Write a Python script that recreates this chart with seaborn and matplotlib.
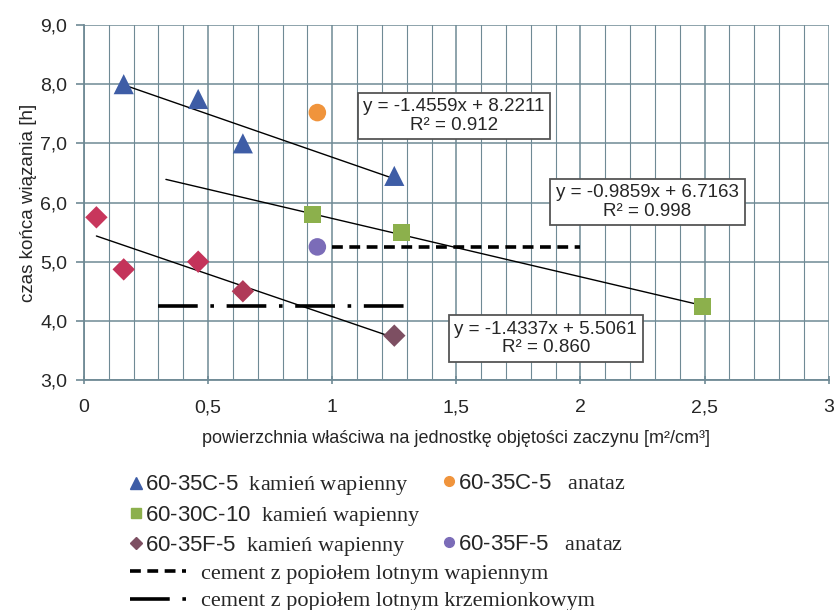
import numpy as np
import matplotlib
matplotlib.use("Agg")
import matplotlib.pyplot as plt
import seaborn as sns
from matplotlib.ticker import MultipleLocator, FuncFormatter
from matplotlib.lines import Line2D

sns.set_style("whitegrid")
plt.rcParams['font.family'] = ['Liberation Sans', 'DejaVu Sans']
plt.rcParams['mathtext.fontset'] = 'custom'
plt.rcParams['mathtext.sf'] = 'Liberation Sans'
plt.rcParams['mathtext.rm'] = 'Liberation Serif'

# data
c5_kw_x = [0.16, 0.46, 0.64, 1.25]
c5_kw_y = [8.0, 7.75, 7.0, 6.45]
c5_an_x = [0.94]
c5_an_y = [7.52]
c10_kw_x = [0.92, 1.28, 2.49]
c10_kw_y = [5.8, 5.5, 4.25]
f5_kw_x = [0.05, 0.16, 0.46, 0.64, 1.25]
f5_kw_y = [5.75, 4.87, 5.0, 4.5, 3.75]
f5_an_x = [0.94]
f5_an_y = [5.25]

# trend lines: slope, intercept, x range, label
fit_slopes = [-1.4559, -0.9859, -1.4337]
fit_inter = [8.2211, 6.7163, 5.5061]
fit_xmin = [0.16, 0.33, 0.05]
fit_xmax = [1.25, 2.49, 1.25]
fit_texts = ["y = -1.4559x + 8.2211\nR² = 0.912",
             "y = -0.9859x + 6.7163\nR² = 0.998",
             "y = -1.4337x + 5.5061\nR² = 0.860"]
fit_text_x = [1.49, 2.27, 1.86]
fit_text_y = [7.46, 6.01, 3.70]

# reference levels
ref_wap_x = [1.0, 2.0]
ref_wap_y = [5.25, 5.25]
ref_krz_x = [0.3, 1.3]
ref_krz_y = [4.25, 4.25]

col_tri = "#3E5DA6"
col_orange = "#F0943C"
col_green = "#8CB04C"
col_purple = "#7B6CB8"
col_dia = ["#C8365C", "#C4335A", "#C4335A", "#B03A58", "#7D4F62"]
grid_col = "#6F8A95"
dash = (0, (3.0, 1.8))
dashdot = (0, (11, 3.5, 1, 3.5))

fig = plt.figure(figsize=(8.34, 6.10), dpi=100)
ax = fig.add_axes([0.1007, 0.377, 0.893, 0.582])

for i in range(3):
    xs = np.array([fit_xmin[i], fit_xmax[i]])
    sns.lineplot(x=xs, y=fit_slopes[i] * xs + fit_inter[i], ax=ax,
                 color="black", lw=1.0, zorder=3)

sns.lineplot(x=ref_wap_x, y=ref_wap_y, ax=ax, color="black", lw=2.6,
             linestyle=dash, zorder=3)
sns.lineplot(x=ref_krz_x, y=ref_krz_y, ax=ax, color="black", lw=2.6,
             linestyle=dashdot, zorder=3)

sns.scatterplot(x=c5_kw_x, y=c5_kw_y, ax=ax, marker="^", s=210,
                color=col_tri, edgecolor="none", zorder=4)
sns.scatterplot(x=c5_an_x, y=c5_an_y, ax=ax, marker="o", s=160,
                color=col_orange, edgecolor="none", zorder=4)
sns.scatterplot(x=c10_kw_x, y=c10_kw_y, ax=ax, marker="s", s=150,
                color=col_green, edgecolor="none", zorder=4)
sns.scatterplot(x=f5_kw_x, y=f5_kw_y, ax=ax, marker="D", s=130,
                hue=list(range(len(f5_kw_x))), palette=col_dia,
                edgecolor="none", legend=False, zorder=4)
sns.scatterplot(x=f5_an_x, y=f5_an_y, ax=ax, marker="o", s=160,
                color=col_purple, edgecolor="none", zorder=4)

for i in range(3):
    ax.text(fit_text_x[i], fit_text_y[i], fit_texts[i], ha="center", va="center",
            fontsize=13.5, linespacing=1.1, zorder=5,
            bbox=dict(boxstyle="square,pad=0.3", fc="white", ec="#555555", lw=1.3))

ax.set_xlim(0, 3)
ax.set_ylim(3, 9)
ax.xaxis.set_major_locator(MultipleLocator(0.5))
ax.xaxis.set_minor_locator(MultipleLocator(0.1))
ax.yaxis.set_major_locator(MultipleLocator(1))
ax.xaxis.set_major_formatter(FuncFormatter(lambda v, p: ("%g" % v).replace(".", ",")))
ax.yaxis.set_major_formatter(FuncFormatter(lambda v, p: ("%.1f" % v).replace(".", ",")))
ax.grid(True, which="major", color=grid_col, lw=1.1)
ax.grid(True, which="minor", axis="x", color=grid_col, lw=0.8)
for side in ["top", "right"]:
    ax.spines[side].set_visible(False)
for side in ["left", "bottom"]:
    ax.spines[side].set_color(grid_col)
    ax.spines[side].set_linewidth(1.3)
ax.tick_params(axis="both", which="major", labelsize=14, color=grid_col,
               length=6, width=1.2, left=True, bottom=True, direction="inout")
ax.tick_params(axis="y", direction="out", pad=6)
ax.tick_params(axis="x", pad=11)

ax.set_xlabel("powierzchnia właściwa na jednostkę objętości zaczynu [m²/cm³]",
              fontsize=13, labelpad=10)
ax.set_ylabel("czas końca wiązania [h]", fontsize=13.5, labelpad=2)

serif = ['Liberation Serif', 'DejaVu Serif']
leg_kw = dict(loc="upper left", frameon=False, borderpad=0, borderaxespad=0,
              handletextpad=0.15, labelspacing=0.28, prop={'family': serif, 'size': 16})

# left column: kamień wapienny series
h1 = [Line2D([], [], ls="none", marker="^", ms=8, color=col_tri),
      Line2D([], [], ls="none", marker="s", ms=7, color=col_green),
      Line2D([], [], ls="none", marker="D", ms=6, color=col_dia[4])]
l1 = ["$\\mathsf{60‐35C‐5}$  kamień wapienny", "$\\mathsf{60‐30C‐10}$  kamień wapienny",
      "$\\mathsf{60‐35F‐5}$  kamień wapienny"]
fig.legend(h1, l1, bbox_to_anchor=(0.156, 0.224), handlelength=0.5, **leg_kw)

# right column: anataz series
fig.legend([Line2D([], [], ls="none", marker="o", ms=7, color=col_orange)],
           ["$\\mathsf{60‐35C‐5}$   anataz"], bbox_to_anchor=(0.532, 0.224),
           handlelength=0.5, **leg_kw)
fig.legend([Line2D([], [], ls="none", marker="o", ms=7, color=col_purple)],
           ["$\\mathsf{60‐35F‐5}$   anataz"], bbox_to_anchor=(0.532, 0.124),
           handlelength=0.5, **leg_kw)

# reference cement lines
h2 = [Line2D([], [], color="black", lw=2.6, ls=dash),
      Line2D([], [], color="black", lw=2.6, ls=dashdot)]
l2 = ["cement z popiołem lotnym wapiennym", "cement z popiołem lotnym krzemionkowym"]
leg_kw2 = dict(leg_kw, handletextpad=0.7, labelspacing=0.3)
fig.legend(h2, l2, bbox_to_anchor=(0.156, 0.076), handlelength=2.5, **leg_kw2)

fig.savefig("out.png", dpi=100)
